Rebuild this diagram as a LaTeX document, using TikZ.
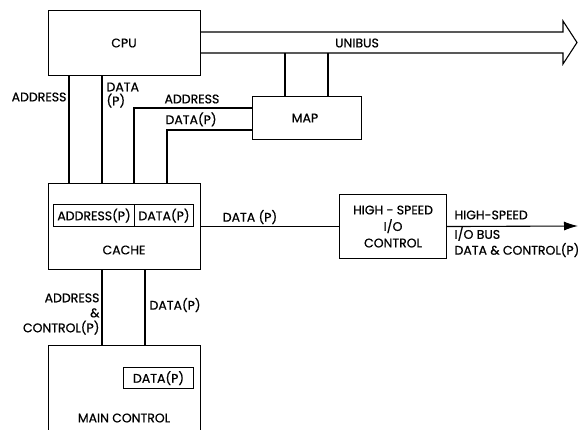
\documentclass[tikz,border=0pt]{standalone}
\usepackage{fontspec}
\setmainfont{Poppins}[FakeBold=0.7]
\usetikzlibrary{arrows.meta}

\tikzset{
  box/.style={draw, inner sep=0pt, anchor=north west},
  lbl/.style={inner sep=0pt, font=\fontsize{12.5}{14}\selectfont},
}

\begin{document}
\begin{tikzpicture}[x=1pt, y=-1pt, line width=1.1pt]
	\useasboundingbox (0,0) rectangle (578,430);
	\clip (0,0) rectangle (578,430);

	% units
	\node[box, minimum width=152, minimum height=65] (cpu) at (48,10) {};
	\node[lbl] at (124,43) {CPU};
	\node[box, minimum width=109, minimum height=43] (map) at (252,96) {};
	\node[lbl] at (305,118) {MAP};
	\node[box, minimum width=152, minimum height=86] (cache) at (48,183) {};
	\node[box, minimum width=81, minimum height=22] (addrp) at (53,204) {};
	\node[box, minimum width=59, minimum height=22] (datap) at (134,204) {};
	\node[lbl] at (addrp) {ADDRESS(P)};
	\node[lbl] at (datap) {DATA(P)};
	\node[lbl] at (124,250) {CACHE};
	\node[box, minimum width=107, minimum height=64] (hsio) at (339,194) {};
	\node[lbl, align=center, font=\fontsize{12.5}{16.5}\selectfont] at (hsio) {HIGH - SPEED\\I/O\\CONTROL};
	\node[box, minimum width=152, minimum height=120] (main) at (48,345) {};
	\node[box, minimum width=70, minimum height=21] (maind) at (123,367) {};
	\node[lbl] at (maind) {DATA(P)};
	\node[lbl] at (124,418) {MAIN CONTROL};

	% unibus
	\coordinate (bustop) at (cpu.east |- 0,32);
	\coordinate (busbot) at (cpu.east |- 0,53);
	\draw (bustop) -- (563,32) -- (563,21) -- (577,42.5) -- (563,64) -- (563,53) -- (busbot);
	\node[lbl] at (357,43) {UNIBUS};
	\draw (busbot -| 285,0) -- (map.north -| 285,0);
	\draw (busbot -| 328,0) -- (map.north -| 328,0);

	% cpu -- cache
	\draw (cpu.south -| 69,0) -- (cache.north -| 69,0);
	\draw (cpu.south -| 102,0) -- (cache.north -| 102,0);
	\node[lbl, anchor=east] at (67,97) {ADDRESS};
	\node[lbl, anchor=north west, align=left] at (106,82) {DATA\\(P)};

	% map -- cache
	\draw (map.west |- 0,108) -- (134,108) -- (cache.north -| 134,0);
	\draw (map.west |- 0,130) -- (167,130) -- (cache.north -| 167,0);
	\node[lbl, anchor=south west] at (164,104) {ADDRESS};
	\node[lbl, anchor=south west] at (165,127) {DATA(P)};

	% cache -- high speed i/o
	\draw (cache.east |- hsio.west) -- (hsio.west);
	\node[lbl] at (250,217) {DATA (P)};
	\coordinate (hsbus) at (578,226);
	\draw[-{Latex[length=14pt, width=9pt]}] (hsio.east) -- (hsbus);
	\node[lbl, anchor=west] at (454,215) {HIGH-SPEED};
	\node[lbl, anchor=west] at (454,234) {I/O BUS};
	\node[lbl, anchor=west] at (454,250) {DATA \& CONTROL(P)};

	% cache -- main
	\draw (cache.south -| 102,0) -- (main.north -| 102,0);
	\draw (cache.south -| 145,0) -- (main.north -| 145,0);
	\node[lbl, anchor=east, align=right, font=\fontsize{12.5}{15}\selectfont] at (100,314) {ADDRESS\\\&\\CONTROL(P)};
	\node[lbl, anchor=west] at (149,305) {DATA(P)};
\end{tikzpicture}
\end{document}
